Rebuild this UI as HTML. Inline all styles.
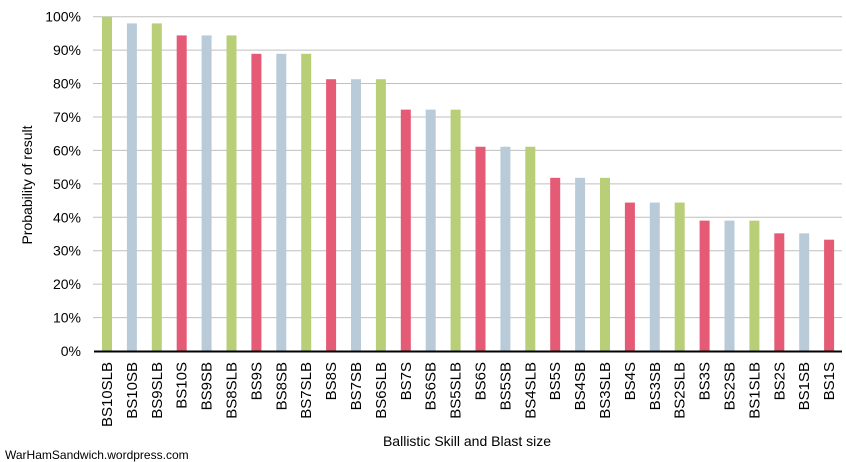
<!DOCTYPE html>
<html><head><style>body{margin:0;background:#fff}svg{display:block}</style></head><body>
<svg width="846" height="462" xmlns="http://www.w3.org/2000/svg" font-family="Liberation Sans, Arial, sans-serif">
<g id="grid" stroke="#bfbfbf" stroke-width="1"></g>
<g id="ylab" font-size="14" fill="#000" text-anchor="end"></g>
<g id="bars"></g>
<line x1="94" y1="351.5" x2="842" y2="351.5" stroke="#000" stroke-width="2"/>
<g id="xlab" font-size="15" fill="#000"></g>
<text x="0" y="0" font-size="14" text-anchor="middle" transform="translate(32,185) rotate(-90)">Probability of result</text>
<text x="467" y="446" font-size="14" text-anchor="middle">Ballistic Skill and Blast size</text>
<text x="5" y="459" font-size="12">WarHamSandwich.wordpress.com</text>
<script>
(function(){
var ns="http://www.w3.org/2000/svg";
var names=["BS10SLB","BS10SB","BS9SLB","BS10S","BS9SB","BS8SLB","BS9S","BS8SB","BS7SLB","BS8S","BS7SB","BS6SLB","BS7S","BS6SB","BS5SLB","BS6S","BS5SB","BS4SLB","BS5S","BS4SB","BS3SLB","BS4S","BS3SB","BS2SLB","BS3S","BS2SB","BS1SLB","BS2S","BS1SB","BS1S"];
var vals=[100,98,98,94.4,94.4,94.4,88.9,88.9,88.9,81.3,81.3,81.3,72.2,72.2,72.2,61.1,61.1,61.1,51.8,51.8,51.8,44.4,44.4,44.4,39,39,39,35.2,35.2,33.3];
var base=351,ytop=16.7,sc=(base-ytop)/100;
function el(t,a,p,txt){var e=document.createElementNS(ns,t);for(var k in a)e.setAttribute(k,a[k]);if(txt)e.textContent=txt;document.getElementById(p).appendChild(e);}
for(var i=0;i<=10;i++){var y=base-i*10*sc;if(i>0)el("line",{x1:93,x2:842,y1:y,y2:y},"grid");el("text",{x:81,y:y+5},"ylab",i*10+"%");}
for(var i=0;i<30;i++){var n=names[i];var c=/LB$/.test(n)?"#b8cf78":/SB$/.test(n)?"#b9cbd8":"#e55a74";
var cx=107+i*24.9;var h=vals[i]*sc;el("rect",{x:cx-5,y:base-h,width:10,height:h,fill:c},"bars");
el("text",{x:0,y:0,"text-anchor":"end",transform:"translate("+(cx+5)+",362) rotate(-90)"},"xlab",n);}
})();
</script>
</svg>
</body></html>
